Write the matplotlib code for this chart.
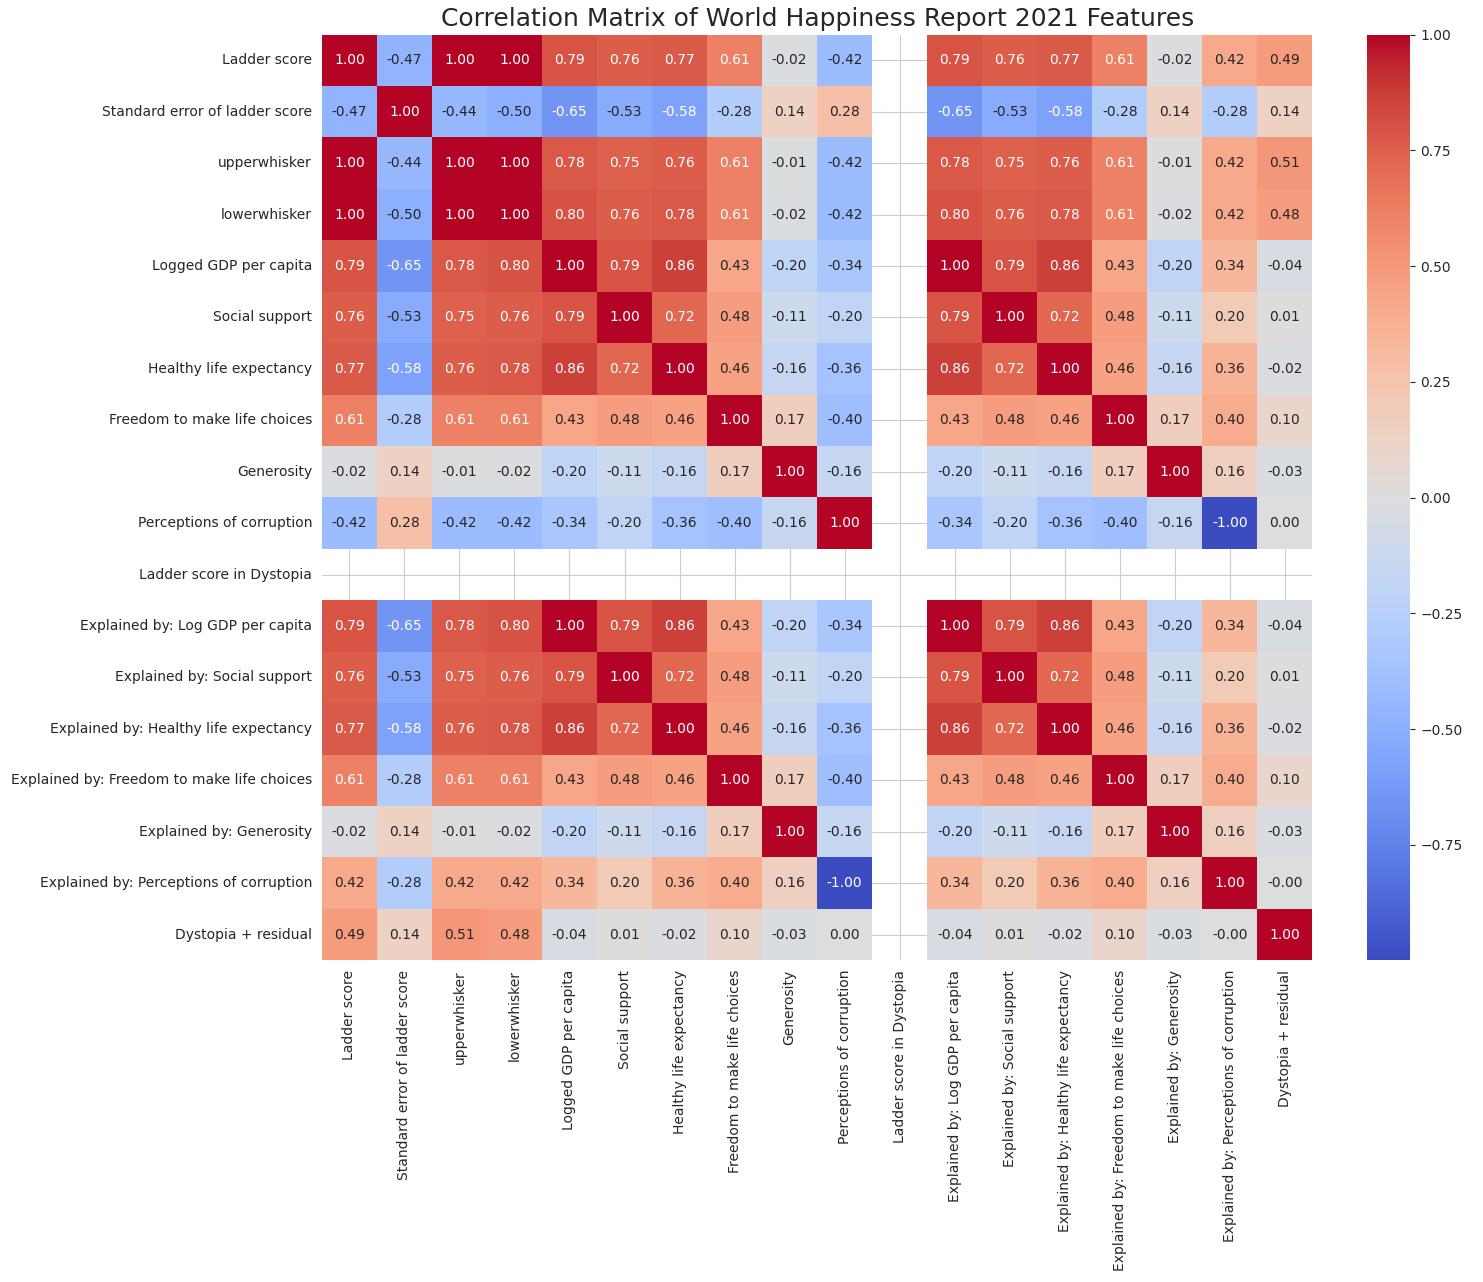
import numpy as np
import matplotlib
matplotlib.use("Agg")
import matplotlib.pyplot as plt
import seaborn as sns

labels = ["Ladder score", "Standard error of ladder score", "upperwhisker", "lowerwhisker",
          "Logged GDP per capita", "Social support", "Healthy life expectancy",
          "Freedom to make life choices", "Generosity", "Perceptions of corruption",
          "Ladder score in Dystopia", "Explained by: Log GDP per capita",
          "Explained by: Social support", "Explained by: Healthy life expectancy",
          "Explained by: Freedom to make life choices", "Explained by: Generosity",
          "Explained by: Perceptions of corruption", "Dystopia + residual"]

n = np.nan
corr = np.array([
    [1.00, -0.47, 1.00, 1.00, 0.79, 0.76, 0.77, 0.61, -0.02, -0.42, n, 0.79, 0.76, 0.77, 0.61, -0.02, 0.42, 0.49],
    [-0.47, 1.00, -0.44, -0.50, -0.65, -0.53, -0.58, -0.28, 0.14, 0.28, n, -0.65, -0.53, -0.58, -0.28, 0.14, -0.28, 0.14],
    [1.00, -0.44, 1.00, 1.00, 0.78, 0.75, 0.76, 0.61, -0.01, -0.42, n, 0.78, 0.75, 0.76, 0.61, -0.01, 0.42, 0.51],
    [1.00, -0.50, 1.00, 1.00, 0.80, 0.76, 0.78, 0.61, -0.02, -0.42, n, 0.80, 0.76, 0.78, 0.61, -0.02, 0.42, 0.48],
    [0.79, -0.65, 0.78, 0.80, 1.00, 0.79, 0.86, 0.43, -0.20, -0.34, n, 1.00, 0.79, 0.86, 0.43, -0.20, 0.34, -0.04],
    [0.76, -0.53, 0.75, 0.76, 0.79, 1.00, 0.72, 0.48, -0.11, -0.20, n, 0.79, 1.00, 0.72, 0.48, -0.11, 0.20, 0.01],
    [0.77, -0.58, 0.76, 0.78, 0.86, 0.72, 1.00, 0.46, -0.16, -0.36, n, 0.86, 0.72, 1.00, 0.46, -0.16, 0.36, -0.02],
    [0.61, -0.28, 0.61, 0.61, 0.43, 0.48, 0.46, 1.00, 0.17, -0.40, n, 0.43, 0.48, 0.46, 1.00, 0.17, 0.40, 0.10],
    [-0.02, 0.14, -0.01, -0.02, -0.20, -0.11, -0.16, 0.17, 1.00, -0.16, n, -0.20, -0.11, -0.16, 0.17, 1.00, 0.16, -0.03],
    [-0.42, 0.28, -0.42, -0.42, -0.34, -0.20, -0.36, -0.40, -0.16, 1.00, n, -0.34, -0.20, -0.36, -0.40, -0.16, -1.00, 0.00],
    [n] * 18,
    [0.79, -0.65, 0.78, 0.80, 1.00, 0.79, 0.86, 0.43, -0.20, -0.34, n, 1.00, 0.79, 0.86, 0.43, -0.20, 0.34, -0.04],
    [0.76, -0.53, 0.75, 0.76, 0.79, 1.00, 0.72, 0.48, -0.11, -0.20, n, 0.79, 1.00, 0.72, 0.48, -0.11, 0.20, 0.01],
    [0.77, -0.58, 0.76, 0.78, 0.86, 0.72, 1.00, 0.46, -0.16, -0.36, n, 0.86, 0.72, 1.00, 0.46, -0.16, 0.36, -0.02],
    [0.61, -0.28, 0.61, 0.61, 0.43, 0.48, 0.46, 1.00, 0.17, -0.40, n, 0.43, 0.48, 0.46, 1.00, 0.17, 0.40, 0.10],
    [-0.02, 0.14, -0.01, -0.02, -0.20, -0.11, -0.16, 0.17, 1.00, -0.16, n, -0.20, -0.11, -0.16, 0.17, 1.00, 0.16, -0.03],
    [0.42, -0.28, 0.42, 0.42, 0.34, 0.20, 0.36, 0.40, 0.16, -1.00, n, 0.34, 0.20, 0.36, 0.40, 0.16, 1.00, -0.001],
    [0.49, 0.14, 0.51, 0.48, -0.04, 0.01, -0.02, 0.10, -0.03, 0.00, n, -0.04, 0.01, -0.02, 0.10, -0.03, -0.001, 1.00],
])

sns.set_style("whitegrid")
fig = plt.figure(figsize=(14.83, 12.82), dpi=100)
ax = fig.add_axes([0.217, 0.251, 0.668, 0.722])
cax = fig.add_axes([0.922, 0.251, 0.029, 0.722])
sns.heatmap(corr, annot=True, fmt=".2f", cmap="coolwarm", vmin=-0.999, vmax=1.0,
            xticklabels=labels, yticklabels=labels, ax=ax, cbar_ax=cax)
ax.set_title("Correlation Matrix of World Happiness Report 2021 Features", fontsize=18)
plt.savefig("out.png")
